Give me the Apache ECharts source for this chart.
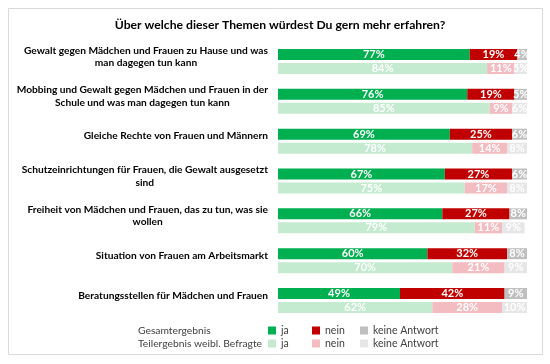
<!DOCTYPE html>
<html><head><meta charset="utf-8">
<script src="https://cdn.jsdelivr.net/npm/echarts@6/dist/echarts.min.js"></script>
<style>html,body{margin:0;padding:0;background:#fff}#c{width:550px;height:364px}</style>
</head><body><div id="c"></div>
<script>
const titleText = 'Über welche dieser Themen würdest Du gern mehr erfahren?';
const categories = [
  'Gewalt gegen Mädchen und Frauen zu Hause und was\nman dagegen tun kann',
  'Mobbing und Gewalt gegen Mädchen und Frauen in der\nSchule und was man dagegen tun kann',
  'Gleiche Rechte von Frauen und Männern',
  'Schutzeinrichtungen für Frauen, die Gewalt ausgesetzt\nsind',
  'Freiheit von Mädchen und Frauen, das zu tun, was sie\nwollen',
  'Situation von Frauen am Arbeitsmarkt',
  'Beratungsstellen für Mädchen und Frauen'
];
const gesamtJa    = [77, 76, 69, 67, 66, 60, 49];
const gesamtNein  = [19, 19, 25, 27, 27, 32, 42];
const gesamtKeine = [4, 5, 6, 6, 8, 8, 9];
const weiblJa     = [84, 85, 78, 75, 79, 70, 62];
const weiblNein   = [11, 9, 14, 17, 11, 21, 28];
const weiblKeine  = [5, 6, 8, 8, 9, 9, 10];
const groupNames = ['Gesamtergebnis', 'Teilergebnis weibl. Befragte'];
const answerNames = ['ja', 'nein', 'keine Antwort'];

const FONT = 'Lato';
const darkColors = ['#00b050', '#c00000', '#bfbfbf'];
const lightColors = ['#c4eacf', '#f2bcc0', '#e6e6e6'];

function mk(name, data, stack, color) {
  return {
    name: name, type: 'bar', stack: stack, data: data,
    barWidth: 11, barGap: '27%',
    itemStyle: { color: color },
    label: {
      show: true, position: 'inside', color: '#fff',
      fontFamily: FONT, fontWeight: 'bold', fontSize: 11,
      formatter: p => p.value + '%'
    }
  };
}
const gSets = [gesamtJa, gesamtNein, gesamtKeine];
const wSets = [weiblJa, weiblNein, weiblKeine];
const series = [];
answerNames.forEach((n, i) => series.push(mk(n, gSets[i], 'g', darkColors[i])));
answerNames.forEach((n, i) => series.push(mk(n + ' ', wSets[i], 'w', lightColors[i])));

const legendLeft = [268, 312, 360];
const legends = [];
[0, 1].forEach(row => {
  answerNames.forEach((n, i) => {
    legends.push({
      data: [row === 0 ? n : n + ' '], left: legendLeft[i], top: row === 0 ? 325 : 338,
      padding: 0, itemWidth: 8, itemHeight: 8, itemTextGap: 7, icon: 'rect', selectedMode: false,
      formatter: s => s.trim(),
      textStyle: { fontFamily: FONT, fontSize: 10.5, color: '#404040' }
    });
  });
});

const chart = echarts.init(document.getElementById('c'), null, { renderer: 'canvas' });
chart.setOption({
  animation: false,
  grid: { left: 278, right: 23, top: 41.6, bottom: 43.6 },
  xAxis: { type: 'value', min: 0, max: 100, show: false },
  yAxis: {
    type: 'category', inverse: true, data: categories,
    axisLine: { show: false }, axisTick: { show: false },
    axisLabel: {
      margin: 10, padding: [0, 0, 10, 0],
      formatter: v => v.split('\n').map(l => '{c|' + l + '}').join('\n'),
      rich: { c: { align: 'center', fontFamily: FONT, fontWeight: 'bold', fontSize: 10.2, color: '#000', lineHeight: 12.5 } }
    }
  },
  legend: legends,
  graphic: [
    { type: 'rect', z: -10, shape: { x: 8.5, y: 8.5, width: 534, height: 346 }, style: { fill: 'none', stroke: '#d9d9d9', lineWidth: 1 } },
    { type: 'text', x: 280, y: 25, style: { text: titleText, font: 'bold 12.2px ' + FONT, fill: '#000', textAlign: 'center', textVerticalAlign: 'middle' } },
    { type: 'text', x: 138, y: 331, style: { text: groupNames[0], font: '10.3px ' + FONT, fill: '#404040', textAlign: 'left', textVerticalAlign: 'middle' } },
    { type: 'text', x: 138, y: 344, style: { text: groupNames[1], font: '10.3px ' + FONT, fill: '#404040', textAlign: 'left', textVerticalAlign: 'middle' } }
  ],
  series: series
});
</script>
</body></html>
